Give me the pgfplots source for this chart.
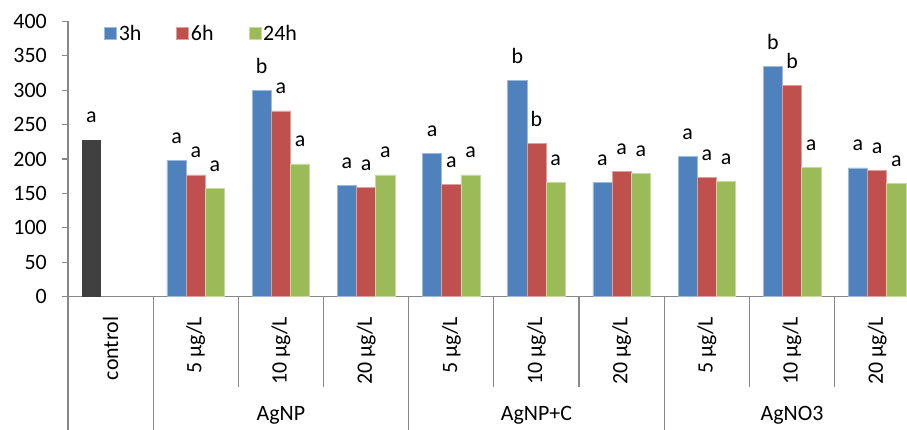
\documentclass[border=0pt]{standalone}
\usepackage{fontspec}
\setmainfont{Carlito}
\usepackage{pgfplots}
\pgfplotsset{compat=1.18}
\usepackage{pgfplotstable}
\definecolor{cA}{HTML}{4F81BD}
\definecolor{cB}{HTML}{C0504D}
\definecolor{cC}{HTML}{9BBB59}
\definecolor{cK}{HTML}{404040}
\definecolor{axgray}{HTML}{888888}
\newcommand{\ff}{\fontsize{22}{26}\selectfont}

\pgfplotstableread{
x y l
0 228 a
}\tControl
\pgfplotstableread{
x y l
1 198 a
2 300 b
3 162 a
4 208 a
5 314 b
6 166 a
7 204 a
8 334 b
9 187 a
}\tThree
\pgfplotstableread{
x y l
1 177 a
2 270 a
3 159 a
4 163 a
5 223 b
6 182 a
7 173 a
8 307 b
9 184 a
}\tSix
\pgfplotstableread{
x y l
1 157 a
2 193 a
3 177 a
4 177 a
5 166 a
6 179 a
7 167 a
8 188 a
9 164 a
}\tTwentyFour

\begin{document}
\begin{tikzpicture}
\begin{axis}[name=ax, scale only axis, width=839bp, height=275.4bp,
  xmin=-0.5, xmax=9.35, ymin=0, ymax=400,
  axis lines*=left, axis line style={axgray, line width=1.2bp},
  ytick={0,50,...,400}, tick align=outside, major tick length=6bp,
  ytick style={axgray, line width=1.2bp},
  xtick={0,...,9},
  xticklabels={control, 5 µg/L, 10 µg/L, 20 µg/L, 5 µg/L, 10 µg/L, 20 µg/L, 5 µg/L, 10 µg/L, 20 µg/L},
  x tick style={draw=none},
  xticklabel style={rotate=90, anchor=east, inner sep=0pt},
  xticklabel shift=14bp,
  yticklabel style={inner sep=0pt, anchor=east},
  yticklabel shift=15bp,
  tick label style={font=\ff},
  /pgf/number format/assume math mode=true,
  clip=false,
  legend columns=3,
  legend style={at={(0.0429,0.9547)}, anchor=west, draw=none, fill=none, inner sep=0pt, font=\ff,
    /tikz/every even column/.append style={column sep=33bp}},
  legend image code/.code={\fill[#1] (0bp,-6bp) rectangle (12bp,6bp);},
  nodes near coords, point meta=explicit symbolic,
  every node near coord/.style={anchor=base, yshift=17bp, inner sep=0pt, font=\ff, black},
]
\addplot[ybar, bar width=19.2bp, bar shift=-19.2bp, fill=cK, draw=none, forget plot,
  every node near coord/.append style={xshift=-19.2bp}] table[x=x, y=y, meta=l] {\tControl};
\addplot[ybar, bar width=19.2bp, bar shift=-19.2bp, fill=cA, draw=cA!55!white, line width=0.6bp,
  every node near coord/.append style={xshift=-19.2bp}] table[x=x, y=y, meta=l] {\tThree};
\addplot[ybar, bar width=19.2bp, bar shift=0bp, fill=cB, draw=cB!55!white, line width=0.6bp] table[x=x, y=y, meta=l] {\tSix};
\addplot[ybar, bar width=19.2bp, bar shift=19.2bp, fill=cC, draw=cC!55!white, line width=0.6bp,
  every node near coord/.append style={xshift=19.2bp}] table[x=x, y=y, meta=l] {\tTwentyFour};
\legend{3h, 6h, 24h}
\pgfplotsinvokeforeach{-0.5,0.5,3.5,6.5}{\draw[axgray, line width=1.2bp] (axis cs:#1,0) -- ++(0bp,-133.3bp);}
\pgfplotsinvokeforeach{1.5,2.5,4.5,5.5,7.5,8.5}{\draw[axgray, line width=1.2bp] (axis cs:#1,0) -- ++(0bp,-90bp);}
\node[anchor=base, font=\ff, inner sep=0pt] at ([yshift=-124bp]axis cs:2,0) {AgNP};
\node[anchor=base, font=\ff, inner sep=0pt] at ([yshift=-124bp]axis cs:5,0) {AgNP+C};
\node[anchor=base, font=\ff, inner sep=0pt] at ([yshift=-124bp]axis cs:8,0) {AgNO3};
\end{axis}
\pgfresetboundingbox
\path[use as bounding box] ([xshift=-68bp,yshift=-133.3bp]ax.south west) rectangle ([yshift=21.3bp]ax.north east);
\end{tikzpicture}
\end{document}
